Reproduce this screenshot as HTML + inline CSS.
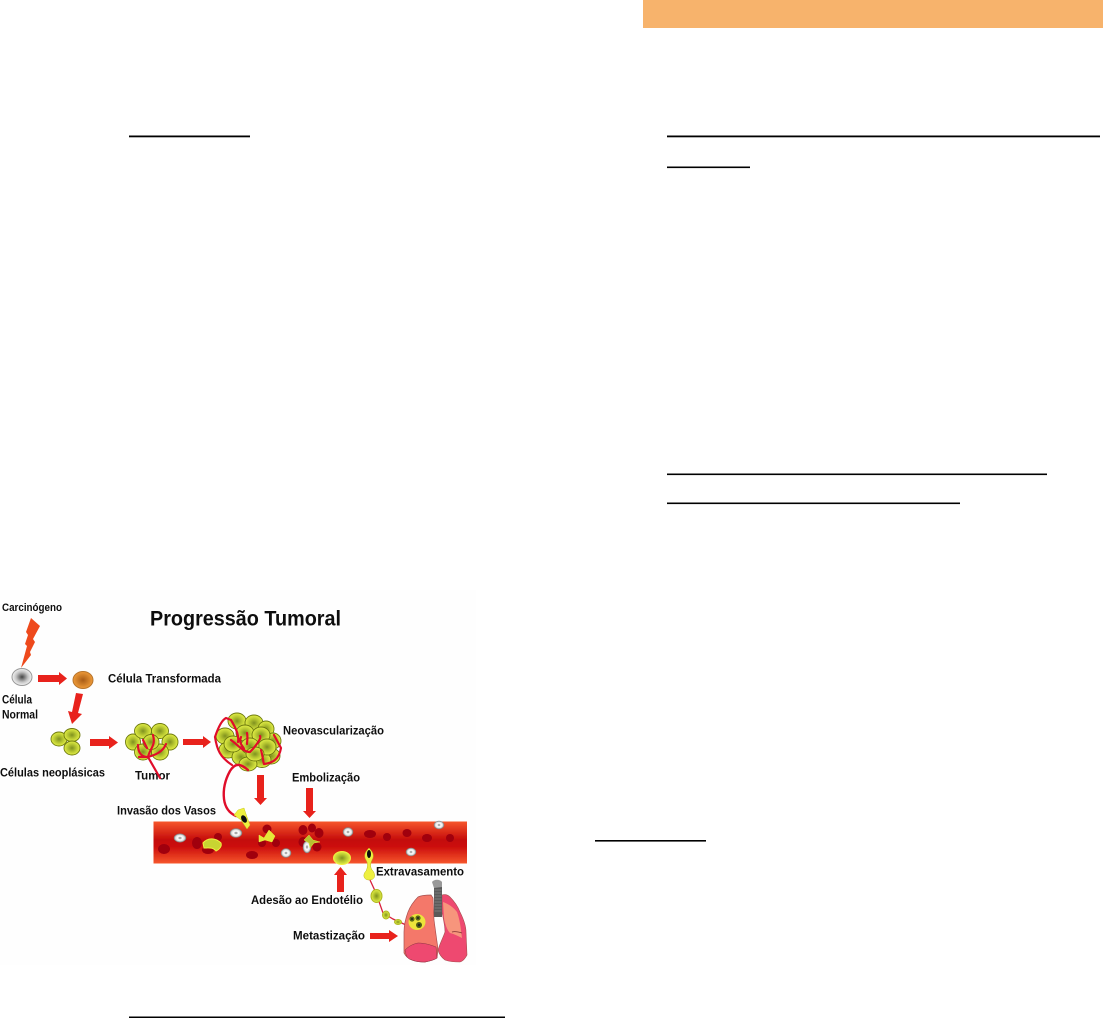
<!DOCTYPE html>
<html><head><meta charset="utf-8"><style>
html,body{margin:0;padding:0;background:#fff;width:1103px;height:1018px;overflow:hidden}
svg{display:block}
text{font-family:"Liberation Sans",sans-serif;font-weight:bold;fill:#111;font-size:12px}
.c{stroke:#6e7a10;stroke-width:.9}
.v{fill:none;stroke:#e0102c;stroke-width:2.2;stroke-linecap:round;stroke-linejoin:round}
.a{fill:#e8201a}
</style></head><body>
<svg width="1103" height="1018" viewBox="0 0 1103 1018" xmlns="http://www.w3.org/2000/svg">
<defs>
<radialGradient id="y"><stop offset="0" stop-color="#7f9020"/><stop offset=".5" stop-color="#b4c430"/><stop offset="1" stop-color="#e2ee46"/></radialGradient>
<radialGradient id="g"><stop offset="0" stop-color="#444"/><stop offset=".6" stop-color="#c4c4c4"/><stop offset="1" stop-color="#f4f4f4"/></radialGradient>
<radialGradient id="o"><stop offset="0" stop-color="#a85c18"/><stop offset="1" stop-color="#ee9a38"/></radialGradient>
<radialGradient id="w"><stop offset="0" stop-color="#777"/><stop offset=".4" stop-color="#fff"/><stop offset=".75" stop-color="#ddd"/><stop offset="1" stop-color="#777"/></radialGradient>
<linearGradient id="b" x1="0" y1="0" x2="0" y2="1"><stop offset="0" stop-color="#f6562c"/><stop offset=".45" stop-color="#c40a0a"/><stop offset=".6" stop-color="#cc0e0c"/><stop offset="1" stop-color="#f6562c"/></linearGradient>
<filter id="s"><feGaussianBlur stdDeviation=".35"/></filter>
</defs>
<rect x="643" y="0" width="460" height="28" fill="#f7b36c"/>
<rect x="0" y="590" width="476" height="375" fill="#fefefe"/>
<g fill="#000">
<rect x="129" y="135.500" width="121" height="1.800"/>
<rect x="667" y="135.500" width="433" height="1.800"/>
<rect x="667" y="166.500" width="83" height="1.600"/>
<rect x="667" y="473.500" width="380" height="1.600"/>
<rect x="667" y="502.500" width="293" height="1.600"/>
<rect x="595" y="840" width="111" height="1.600"/>
<rect x="129" y="1016.500" width="376" height="1.500"/>
</g>
<g filter="url(#s)">
<text x="2" y="611" style="font-size:11px" textLength="60" lengthAdjust="spacingAndGlyphs">Carcinógeno</text>
<text x="150" y="625.500" style="font-size:21.500px" textLength="191" lengthAdjust="spacingAndGlyphs">Progressão Tumoral</text>
<text x="108" y="682.500" textLength="113" lengthAdjust="spacingAndGlyphs">Célula Transformada</text>
<text x="2" y="703.500" textLength="30" lengthAdjust="spacingAndGlyphs">Célula</text>
<text x="2" y="718.500" textLength="36" lengthAdjust="spacingAndGlyphs">Normal</text>
<text x="0" y="776.500" textLength="105" lengthAdjust="spacingAndGlyphs">Células neoplásicas</text>
<text x="135" y="779.500" textLength="35" lengthAdjust="spacingAndGlyphs">Tumor</text>
<text x="283" y="734.500" textLength="101" lengthAdjust="spacingAndGlyphs">Neovascularização</text>
<text x="292" y="781.500" textLength="68" lengthAdjust="spacingAndGlyphs">Embolização</text>
<text x="117" y="814.500" textLength="99" lengthAdjust="spacingAndGlyphs">Invasão dos Vasos</text>
<text x="376" y="875.500" textLength="88" lengthAdjust="spacingAndGlyphs">Extravasamento</text>
<text x="251" y="904" textLength="112" lengthAdjust="spacingAndGlyphs">Adesão ao Endotélio</text>
<text x="293" y="939.500" textLength="72" lengthAdjust="spacingAndGlyphs">Metastização</text>

<polygon points="31,618 40,626 33,639 35,642 30,652 31,655 21,668 27,646 25,644 28,635 26,632" fill="#ee4a1c"/>
<ellipse cx="22" cy="677" rx="10" ry="8.500" fill="url(#g)" stroke="#999"/>
<ellipse cx="83" cy="680" rx="10" ry="8.500" fill="url(#o)" stroke="#b8742c"/>
<polygon class="a" points="38,675 59,675 59,672 67,678.500 59,685 59,682 38,682"/>
<polygon class="a" points="76,693 83,694 78,713 82,714 72,724 68,711 72,712"/>
<polygon class="a" points="90,739 109,739 109,736 118,742.500 109,749 109,746 90,746"/>
<polygon class="a" points="183,739 203,739 203,736 211,742 203,748 203,745 183,745"/>
<polygon class="a" points="257,775 264,775 264,798 267,798 260.500,805 254,798 257,798"/>
<polygon class="a" points="306,788 313,788 313,811 316,811 309.500,818 303,811 306,811"/>
<polygon class="a" points="337,892 344,892 344,875 347,875 340.500,867 334,875 337,875"/>
<polygon class="a" points="370,933 389,933 389,930 398,936 389,942 389,939 370,939"/>

<g class="c" fill="url(#y)">
<ellipse cx="59" cy="739" rx="8" ry="7"/><ellipse cx="72" cy="735" rx="8" ry="6.500"/><ellipse cx="72" cy="748" rx="8" ry="7"/>
<ellipse cx="133" cy="742" rx="7.500" ry="8"/><ellipse cx="143" cy="731" rx="8.500" ry="7.500"/><ellipse cx="160" cy="731" rx="8.500" ry="7.500"/><ellipse cx="170" cy="742" rx="8" ry="8"/><ellipse cx="160" cy="752" rx="8.500" ry="8"/><ellipse cx="143" cy="752" rx="8.500" ry="8"/><ellipse cx="151" cy="742" rx="8" ry="7.500"/>
<ellipse cx="237" cy="721" rx="9" ry="8"/><ellipse cx="254" cy="723" rx="9" ry="8"/><ellipse cx="266" cy="729" rx="8" ry="8"/><ellipse cx="225" cy="736" rx="9" ry="8"/><ellipse cx="273" cy="741" rx="8" ry="8"/><ellipse cx="228" cy="750" rx="9" ry="8"/><ellipse cx="271" cy="756" rx="9" ry="8"/><ellipse cx="241" cy="757" rx="9" ry="8"/><ellipse cx="262" cy="760" rx="9" ry="7.500"/><ellipse cx="248" cy="764" rx="9" ry="7"/>
<ellipse cx="245" cy="733" rx="9" ry="8"/><ellipse cx="261" cy="735" rx="9" ry="8"/><ellipse cx="233" cy="744" rx="9" ry="8"/><ellipse cx="267" cy="747" rx="9" ry="8"/><ellipse cx="250" cy="746" rx="9" ry="8"/><ellipse cx="255" cy="754" rx="9" ry="7"/>
</g>
<path class="v" d="M138,745 C138,752 141,757 148,757 C155,755 163,752 166,744 M148,757 L160,778 M148,757 C150,748 156,746 153,735 M139,757 C142,757 146,757 148,757 M147,748 L143,740"/>
<path class="v" d="M232,765 C220,757 217,750 215,737 C218,728 222,720 226,718 L231,720 C237,730 239,736 238,742 M231,740 C238,745 243,752 250,752 C255,747 262,738 260,736 M241,737 C238,745 245,747 244,750 M247,733 C248,738 247,742 247,744 M261,750 C263,757 263,762 264,764 C272,763 279,760 281,748 L274,735"/>
<path class="v" d="M248,770 C240,763 235,763 230,771 C225,780 223,790 224,799 C225,807 229,813 236,816" style="stroke-width:2.400"/>

<rect x="153.500" y="821.500" width="313.500" height="42" fill="url(#b)"/>
<g fill="#a00010">
<ellipse cx="164" cy="849" rx="6" ry="5"/><ellipse cx="197" cy="843" rx="5" ry="6"/><ellipse cx="218" cy="837" rx="4" ry="4"/><ellipse cx="208" cy="850" rx="6" ry="4"/><ellipse cx="252" cy="855" rx="6" ry="4"/><ellipse cx="262" cy="843" rx="4" ry="4"/><ellipse cx="267" cy="829" rx="4.500" ry="4.500"/><ellipse cx="276" cy="843" rx="4" ry="4"/>
<ellipse cx="303" cy="830" rx="4.500" ry="5"/><ellipse cx="312" cy="828" rx="4" ry="4.500"/><ellipse cx="319" cy="833" rx="4.500" ry="5"/><ellipse cx="303" cy="842" rx="4.500" ry="5"/><ellipse cx="317" cy="847" rx="4.500" ry="4.500"/>
<ellipse cx="370" cy="834" rx="6" ry="4"/><ellipse cx="387" cy="837" rx="4" ry="4"/><ellipse cx="407" cy="833" rx="4.500" ry="4"/><ellipse cx="427" cy="838" rx="5" ry="4"/><ellipse cx="450" cy="838" rx="4" ry="4"/>
</g>
<g fill="url(#w)" stroke="#888" stroke-width=".5">
<ellipse cx="180" cy="838" rx="6" ry="4.200"/><ellipse cx="236" cy="833" rx="6" ry="4.500"/><ellipse cx="286" cy="853" rx="5" ry="4.500"/><ellipse cx="307" cy="847" rx="4" ry="6"/><ellipse cx="348" cy="832" rx="5" ry="4.500"/><ellipse cx="439" cy="825" rx="5" ry="4"/><ellipse cx="411" cy="852" rx="5" ry="4"/>
</g>
<path d="M203,843 C208,837 216,838 221,843 C222,846 220,849 216,851 C213,847 208,848 204,848Z" fill="#c8d430" stroke="#eef040"/>
<path d="M259,835 L264,838 L269,830 L275,836 L272,842 L265,840 L259,842Z" fill="#e4e838" stroke="#eef040" stroke-width=".5"/>
<path d="M309,835 L313,840 L320,842 L314,843 L310,848 L309,843 L304,840Z" fill="#b8c030" stroke="#e4e838" stroke-width=".5"/>
<path d="M238,810 L244,808 L247,817 L250,825 L247,829 L241,820 L234,815Z" fill="#eef040" stroke="#c8c820" stroke-width=".5"/>
<ellipse cx="244" cy="819" rx="2.500" ry="4" fill="#111" transform="rotate(-30 244 819)"/>
<ellipse cx="342" cy="858" rx="8.500" ry="6.500" fill="url(#y)" stroke="#f0f040"/>
<path d="M369,848 C372,851 375,855 372,860 C370,864 370,868 373,871 C376,875 375,880 369,880 C364,880 362,875 366,871 C368,867 368,863 366,860 C363,855 366,851 369,848Z" fill="#eef040" stroke="#b8b820" stroke-width=".5"/>
<ellipse cx="369" cy="854" rx="2" ry="4" fill="#111"/>
<path d="M370,880 L376,893 L383,913 L393,919 L406,925" fill="none" stroke="#d8203c" stroke-width="1.300"/>
<ellipse cx="376.500" cy="896" rx="5.500" ry="6.500" fill="url(#y)" stroke="#b0b820"/>
<ellipse cx="386" cy="915" rx="3.500" ry="4" fill="url(#y)" stroke="#b0b820"/>
<ellipse cx="398" cy="922" rx="3.500" ry="2.500" fill="url(#y)" stroke="#b0b820"/>

<path d="M431,895 C425,895 420,896 418,897 C413,902 410,907 408,912 C405,920 404,926 404,932 L404,953 C406,957 409,959 412,960 C417,962 421,962 425,962 C430,961 434,960 437,958 C438,952 438,947 437,942 L434,920 L433,898Z" fill="#f4786a" stroke="#a85050" stroke-width=".7"/>
<path d="M405,950 C409,946 413,944 418,943 C425,943 431,945 436,947 L437,958 C434,960 430,961 425,962 C421,962 417,962 412,960 C408,959 406,957 405,950Z" fill="#ee4a70" stroke="#8a3040" stroke-width=".5"/>
<path d="M442,895 C445,894 448,895 450,897 C455,902 458,907 460,912 C464,920 466,926 466,932 L467,955 C465,959 463,961 460,962 C455,962 450,962 445,960 C441,957 439,954 438,950 C440,943 443,938 445,932 C445,925 443,918 442,912Z" fill="#ee4a70" stroke="#a85050" stroke-width=".6"/>
<path d="M443,902 C449,904 454,908 457,912 C460,920 461,930 462,938 C458,936 454,934 450,933 C447,930 445,924 444,918Z" fill="#f7957c"/>
<path d="M452,932 C455,931 459,932 462,933" fill="none" stroke="#803030" stroke-width=".8"/>
<rect x="434" y="886" width="8" height="31" fill="#5a5a5a"/>
<path d="M432,882 C434,879 440,879 442,882 L442,887 L434,888Z" fill="#999"/>
<path d="M434.500,890 H441.500 M434.500,893 H441.500 M434.500,896 H441.500 M434.500,899 H441.500 M434.500,902 H441.500 M434.500,905 H441.500 M434.500,908 H441.500 M434.500,911 H441.500" stroke="#888" stroke-width=".8"/>
<ellipse cx="417" cy="922" rx="8.500" ry="8" fill="#ece43a"/>
<circle cx="412" cy="919" r="2.600" fill="#5c6a18"/><circle cx="418" cy="918" r="2.600" fill="#5c6a18"/><circle cx="419" cy="925" r="3" fill="#4c5a14"/>

<circle cx="412" cy="919" r="1" fill="#222"/><circle cx="418" cy="918" r="1" fill="#222"/><circle cx="419" cy="925" r="1.200" fill="#222"/>
</g>
</svg>
</body></html>
